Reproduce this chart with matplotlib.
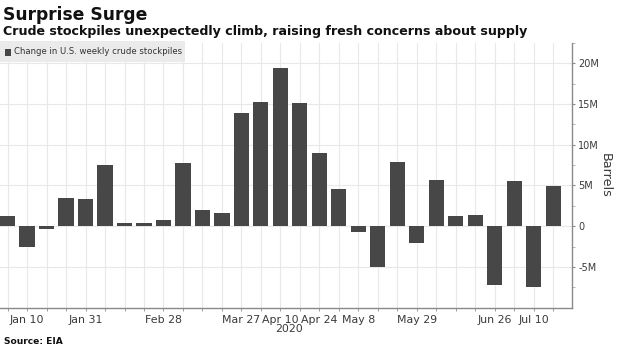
import matplotlib
matplotlib.use("Agg")
import matplotlib.pyplot as plt
from matplotlib.patches import Rectangle

weeks = ["Jan 3", "Jan 10", "Jan 17", "Jan 24", "Jan 31", "Feb 7", "Feb 14", "Feb 21",
         "Feb 28", "Mar 6", "Mar 13", "Mar 20", "Mar 27", "Apr 3", "Apr 10", "Apr 17",
         "Apr 24", "May 1", "May 8", "May 15", "May 22", "May 29", "Jun 5", "Jun 12",
         "Jun 19", "Jun 26", "Jul 3", "Jul 10", "Jul 17"]
change_mbbl = [1.2, -2.5, -0.4, 3.5, 3.3, 7.5, 0.4, 0.4, 0.8, 7.7, 2.0, 1.6, 13.9, 15.2,
               19.4, 15.1, 9.0, 4.6, -0.7, -5.0, 7.9, -2.1, 5.7, 1.2, 1.4, -7.2, 5.6, -7.5, 4.9]
labeled_weeks = ["Jan 10", "Jan 31", "Feb 28", "Mar 27", "Apr 10", "Apr 24", "May 8",
                 "May 29", "Jun 26", "Jul 10"]
ytick_values = [-5, 0, 5, 10, 15, 20]
ytick_labels = ["-5M", "0", "5M", "10M", "15M", "20M"]
year_label = "2020"

W, H = 620, 348
fig = plt.figure(figsize=(W / 100, H / 100), dpi=100)
ax_left, ax_right, ax_top, ax_bottom = 0, 572, 43, 308
ax = fig.add_axes([ax_left / W, 1 - ax_bottom / H, (ax_right - ax_left) / W,
                   (ax_bottom - ax_top) / H])

x = list(range(len(weeks)))
bar_color = "#474747"
ax.bar(x, change_mbbl, width=0.77, color=bar_color, zorder=3)

ax.set_xlim(-0.385, 28.95)
ax.set_ylim(-10.05, 21.7)

# axes styling
for s in ["left", "top"]:
    ax.spines[s].set_visible(False)
for s in ["right", "bottom"]:
    ax.spines[s].set_color("#8a8a8a")
    ax.spines[s].set_linewidth(1.0)

ax.yaxis.tick_right()
ax.set_yticks(ytick_values)
ax.set_yticklabels(ytick_labels)
ax.set_yticks([v + 2.5 for v in [-10] + ytick_values], minor=True)
ax.tick_params(axis="y", which="major", length=2.5, width=0.8, color="#8a8a8a",
               labelsize=7, labelcolor="#3a3a3a", pad=2)
ax.tick_params(axis="y", which="minor", length=2, width=0.6, color="#aaaaaa")

major_pos = [weeks.index(w) for w in labeled_weeks]
ax.set_xticks(major_pos)
ax.set_xticklabels(labeled_weeks)
ax.set_xticks(x, minor=True)
ax.tick_params(axis="x", which="both", length=2, width=0.6, color="#8a8a8a",
               labelsize=7.9, labelcolor="#3a3a3a", pad=3)

ax.grid(axis="x", which="both", color="#e8e8e8", linewidth=0.8, zorder=0)
ax.grid(axis="y", which="major", color="#e8e8e8", linewidth=0.8, zorder=0)
ax.set_axisbelow(True)

ax.yaxis.set_label_position("right")
ax.set_ylabel("Barrels", rotation=270, fontsize=9.2, color="#3a3a3a", labelpad=9)

ax.text(14.45, -(329 - ax_bottom) / (ax_bottom - ax_top), year_label,
        transform=ax.get_xaxis_transform(), ha="center", va="center",
        fontsize=7.9, color="#3a3a3a")

# titles
fig.text(3 / W, 1 - 19.5 / H, "Surprise Surge", fontsize=12.3, fontweight="bold",
         color="#111111", va="baseline", ha="left")
fig.text(3 / W, 1 - 34.5 / H,
         "Crude stockpiles unexpectedly climb, raising fresh concerns about supply",
         fontsize=9.1, fontweight="bold", color="#111111", va="baseline", ha="left")

# legend box
fig.add_artist(Rectangle((0, 1 - 62 / H), 185 / W, 21 / H, transform=fig.transFigure,
                         facecolor="#ebebeb", edgecolor="none", zorder=5))
fig.add_artist(Rectangle((5 / W, 1 - 55.5 / H), 6 / W, 6 / H, transform=fig.transFigure,
                         facecolor=bar_color, edgecolor="none", zorder=6))
fig.text(14 / W, 1 - 52 / H, "Change in U.S. weekly crude stockpiles", fontsize=6.1,
         color="#333333", va="center", ha="left", zorder=6)

fig.text(4 / W, 1 - 342 / H, "Source: EIA", fontsize=6.6, fontweight="bold",
         color="#111111", va="center", ha="left")

fig.savefig("out.png", dpi=100)
